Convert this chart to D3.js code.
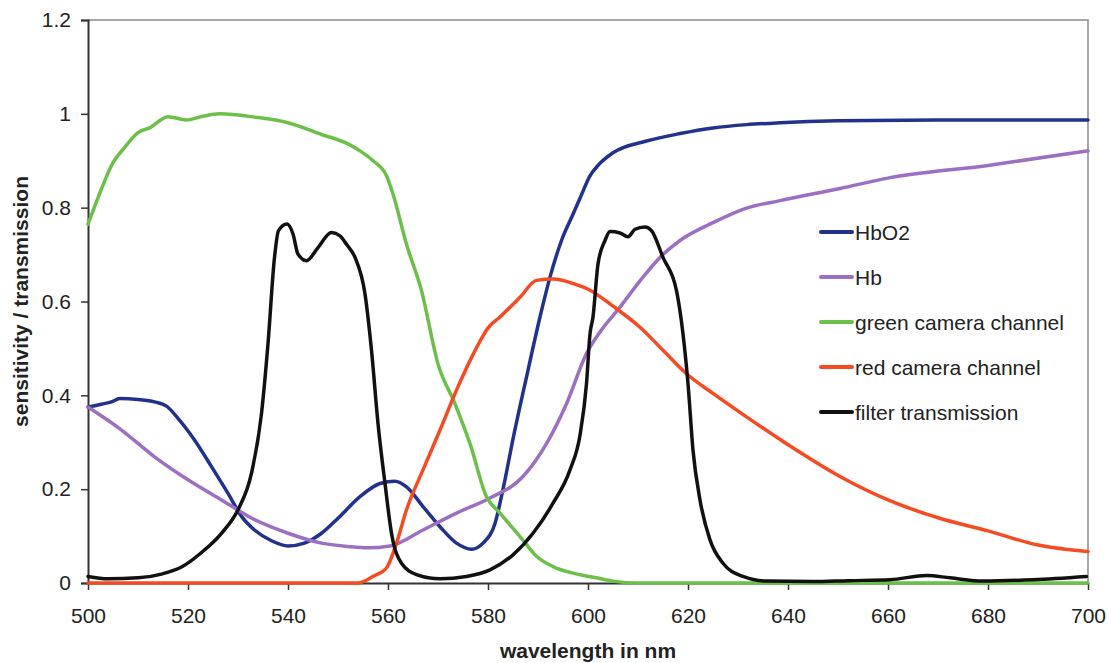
<!DOCTYPE html>
<html>
<head>
<meta charset="utf-8">
<script src="https://cdn.jsdelivr.net/npm/d3@7"></script>
<style>
  body { margin: 0; background: #fff; }
  text { font-family: "Liberation Sans", Arial, sans-serif; }
</style>
</head>
<body>
<div id="chart"></div>
<script>
// [wavelength nm, value]
const hbo2 = [[500,0.375],[502.7,0.381],[504.7,0.386],[506.3,0.393],[510,0.391],[513.3,0.386],[515.7,0.377],[518,0.351],[521.3,0.305],[524.7,0.248],[528,0.191],[530.7,0.142],[533.3,0.113],[536.7,0.09],[540,0.079],[543.3,0.085],[546.7,0.106],[550,0.138],[554.4,0.184],[558.4,0.212],[561.4,0.217],[563.7,0.205],[567,0.163],[570.4,0.12],[573.7,0.085],[576.7,0.072],[579,0.085],[581.4,0.127],[583.1,0.205],[585.1,0.312],[587.7,0.439],[590.4,0.567],[592.4,0.652],[594.7,0.73],[597,0.786],[598.4,0.82],[600.4,0.868],[602,0.89],[605,0.917],[611.7,0.942],[618.4,0.958],[625,0.97],[631.7,0.977],[638.4,0.981],[650,0.985],[670,0.987],[700,0.987]];

const hb = [[500,0.375],[506.7,0.326],[513.3,0.269],[520,0.22],[526.7,0.177],[533.3,0.135],[540,0.106],[546.7,0.085],[552,0.078],[556,0.075],[560.4,0.079],[567,0.113],[573.7,0.149],[580.4,0.181],[587,0.227],[591.7,0.297],[595.7,0.382],[599.7,0.489],[602.4,0.535],[606.4,0.588],[610.4,0.644],[614.4,0.694],[618.4,0.73],[625,0.768],[631.7,0.799],[638.4,0.815],[650.4,0.841],[660,0.863],[680,0.89],[700,0.921]];

const greenChannel = [[500,0.765],[502,0.821],[505,0.896],[507.3,0.928],[510,0.96],[512.3,0.97],[516,0.994],[519.7,0.987],[522.7,0.994],[526.3,1.0],[533.3,0.993],[540,0.981],[546.7,0.956],[552,0.936],[554.4,0.921],[557,0.9],[559.7,0.868],[561,0.829],[563.7,0.722],[566.7,0.623],[570,0.467],[573.4,0.382],[576.4,0.297],[579.7,0.184],[582.4,0.149],[586.4,0.099],[589.7,0.057],[593,0.035],[597,0.021],[601.7,0.011],[605,0.004],[610,0],[650,0],[700,0]];

const redChannel = [[500,0],[554,0],[557,0.014],[559.7,0.032],[561.7,0.085],[563.7,0.156],[567,0.241],[570.4,0.326],[573.7,0.411],[577.1,0.489],[580.1,0.545],[582.4,0.567],[586.4,0.609],[589.7,0.645],[593.1,0.648],[597.1,0.638],[600.4,0.624],[605,0.59],[610.4,0.545],[615,0.496],[619.7,0.446],[625,0.404],[631.7,0.354],[639.7,0.297],[650.4,0.227],[660,0.177],[670,0.139],[680,0.111],[690,0.081],[700,0.067]];

const filterTrans = [[500,0.014],[504,0.009],[510,0.011],[514.7,0.019],[518.7,0.034],[522.7,0.065],[526.7,0.106],[530,0.156],[532.7,0.234],[534.7,0.361],[536,0.51],[537.3,0.694],[538.1,0.751],[539.8,0.765],[541,0.744],[542,0.701],[543.7,0.687],[546,0.715],[548.7,0.747],[550.4,0.74],[551.7,0.722],[553.4,0.694],[555.4,0.616],[556.7,0.496],[558,0.34],[559.4,0.212],[560.7,0.106],[562.7,0.042],[565.7,0.018],[570.4,0.009],[575.7,0.014],[580.4,0.028],[585,0.06],[589,0.106],[593,0.17],[596.4,0.241],[598.4,0.315],[599.7,0.425],[600.4,0.531],[601,0.567],[602,0.68],[603.4,0.73],[604.4,0.749],[606.4,0.746],[608,0.738],[609.4,0.754],[611.4,0.759],[612.7,0.751],[615,0.694],[617.7,0.623],[619,0.531],[620,0.425],[621,0.283],[622.4,0.177],[624.4,0.092],[627,0.042],[631,0.014],[635.7,0.004],[645,0.003],[652,0.005],[660.4,0.007],[667.7,0.016],[672.4,0.011],[679,0.004],[689,0.007],[699.7,0.014]];

const seriesNames = ['HbO2', 'Hb', 'green camera channel', 'red camera channel', 'filter transmission'];
const seriesData = [hbo2, hb, greenChannel, redChannel, filterTrans];
const seriesColors = ['#22318c', '#9b6fc1', '#6cc04a', '#f54b22', '#111111'];

const xTicks = [500, 520, 540, 560, 580, 600, 620, 640, 660, 680, 700];
const yTicks = [0, 0.2, 0.4, 0.6, 0.8, 1, 1.2];

const width = 1108;
const height = 663;
const margin = { top: 20, right: 20, bottom: 80, left: 88 };

const svg = d3.select("#chart")
    .append("svg")
    .attr("width", width)
    .attr("height", height);

const xScale = d3.scaleLinear()
    .domain([500, 700])
    .range([margin.left, width - margin.right]);

const yScale = d3.scaleLinear()
    .domain([0, 1.2])
    .range([height - margin.bottom, margin.top]);

// plot frame (top / right in grey)
svg.append("path")
    .attr("d", `M${xScale(500)},${yScale(1.2)}H${xScale(700)}V${yScale(0)}`)
    .attr("fill", "none")
    .attr("stroke", "#8a8a8a")
    .attr("stroke-width", 1.5);

// Y axis
const yAxis = svg.append("g")
    .attr("transform", `translate(${margin.left},0)`)
    .call(d3.axisLeft(yScale).tickValues(yTicks).tickSize(7).tickPadding(10).tickFormat(d3.format("~g")));

// X axis
const xAxis = svg.append("g")
    .attr("transform", `translate(0,${height - margin.bottom})`)
    .call(d3.axisBottom(xScale).tickValues(xTicks).tickSize(7).tickPadding(18).tickSizeOuter(0));

[xAxis, yAxis].forEach(ax => {
    ax.select(".domain").attr("stroke", "#333").attr("stroke-width", 2);
    ax.selectAll(".tick line").attr("stroke", "#333").attr("stroke-width", 1.5);
    ax.selectAll(".tick text")
        .attr("fill", "#222")
        .style("font-size", "21px")
        .style("font-family", "'Liberation Sans', Arial, sans-serif");
});

// Lines
const line = d3.line()
    .x(d => xScale(d[0]))
    .y(d => yScale(d[1]))
    .curve(d3.curveMonotoneX);

seriesData.forEach((data, i) => {
    svg.append("path")
        .datum(data)
        .attr("fill", "none")
        .attr("stroke", seriesColors[i])
        .attr("stroke-width", 3.5)
        .attr("stroke-linejoin", "round")
        .attr("stroke-linecap", "round")
        .attr("d", line);
});

// Legend
const legend = svg.append("g");
seriesNames.forEach((name, i) => {
    const y = 232 + i * 45;
    legend.append("line")
        .attr("x1", 821).attr("x2", 852)
        .attr("y1", y).attr("y2", y)
        .attr("stroke", seriesColors[i])
        .attr("stroke-width", 4)
        .attr("stroke-linecap", "round");
    legend.append("text")
        .attr("x", 855)
        .attr("y", y + 7.5)
        .attr("fill", "#222")
        .style("font-size", "21px")
        .text(name);
});

// Axis titles
svg.append("text")
    .attr("x", (xScale(500) + xScale(700)) / 2)
    .attr("y", 658)
    .attr("text-anchor", "middle")
    .attr("fill", "#222")
    .style("font-size", "21px")
    .style("font-weight", "bold")
    .text("wavelength in nm");

svg.append("text")
    .attr("transform", `translate(28,${(yScale(0) + yScale(1.2)) / 2}) rotate(-90)`)
    .attr("text-anchor", "middle")
    .attr("fill", "#222")
    .style("font-size", "21px")
    .style("font-weight", "bold")
    .text("sensitivity / transmission");
</script>
</body>
</html>
